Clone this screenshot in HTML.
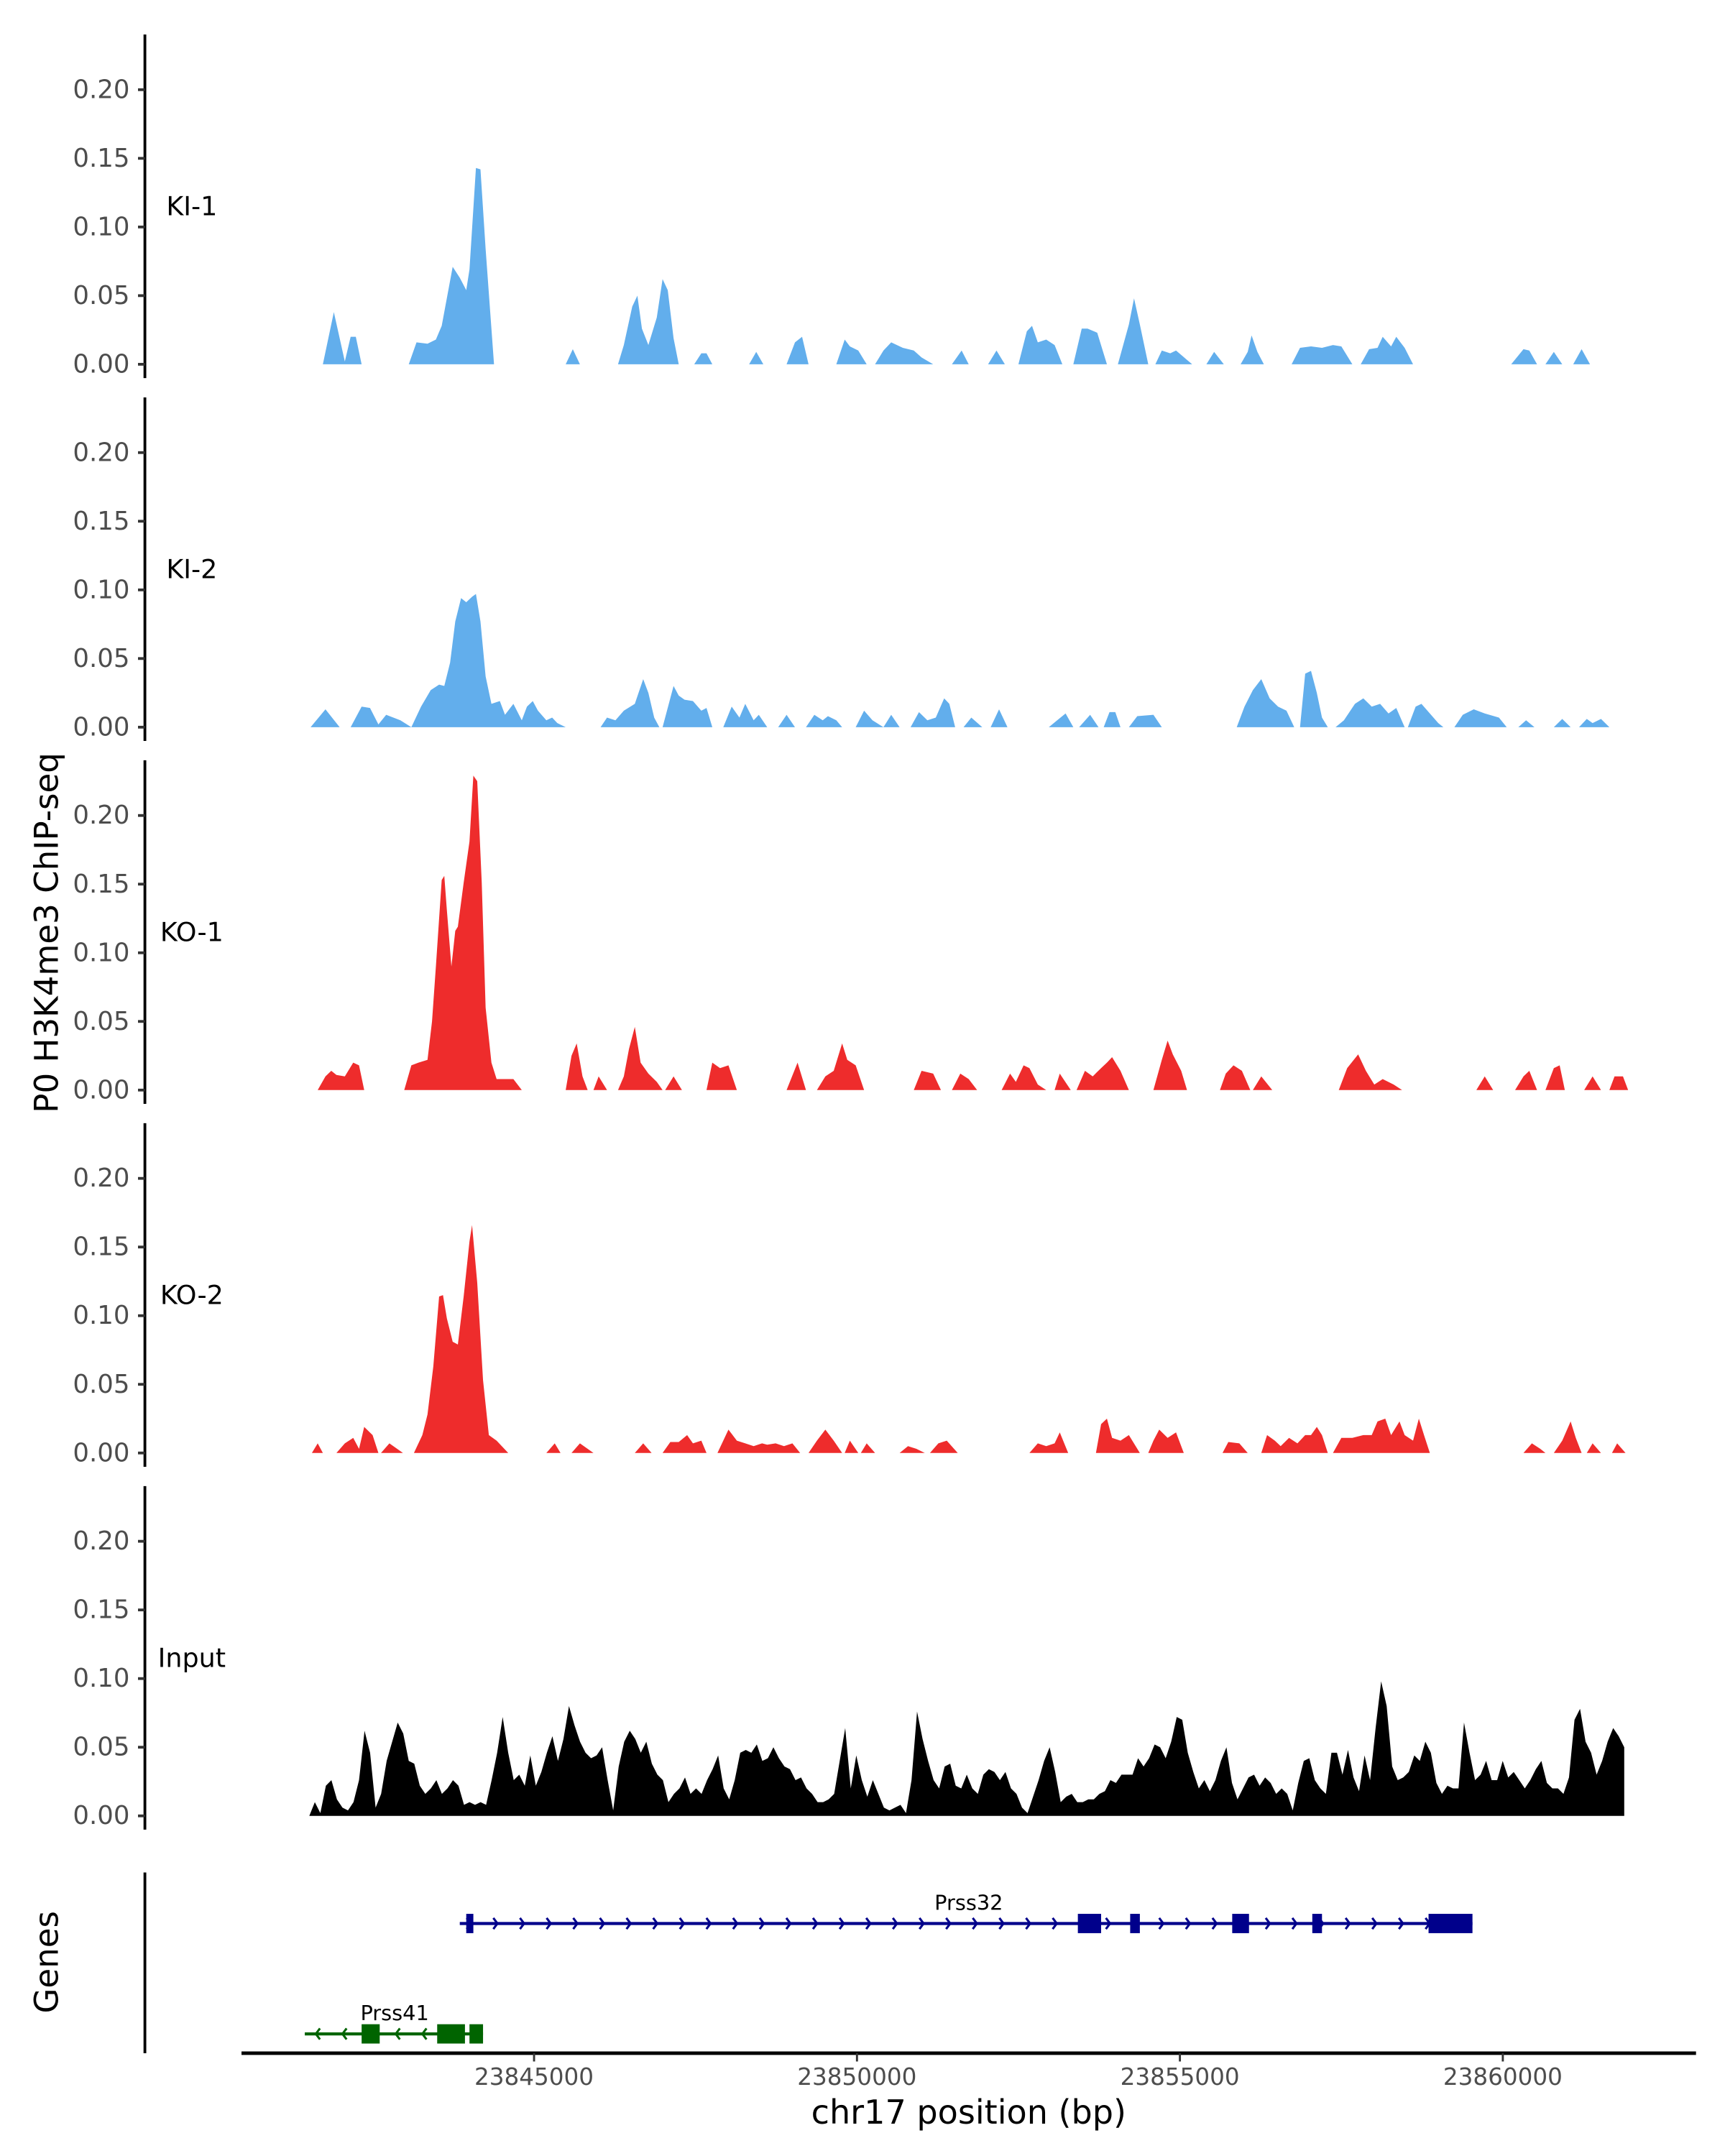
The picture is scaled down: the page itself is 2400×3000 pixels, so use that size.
<!DOCTYPE html>
<html><head><meta charset="utf-8"><style>
html,body{margin:0;padding:0;background:#fff}
svg{display:block}
text{font-family:"DejaVu Sans","Liberation Sans",sans-serif}
</style></head><body>
<svg id="chart" xmlns="http://www.w3.org/2000/svg" width="2400" height="3000" viewBox="0 0 1250 1562.5">
<text x="0" y="0" transform="translate(42,676) rotate(-90)" text-anchor="middle" font-size="23.5" fill="#000">P0 H3K4me3 ChIP-seq</text>
<text x="0" y="0" transform="translate(42,1422) rotate(-90)" text-anchor="middle" font-size="23.5" fill="#000">Genes</text>
<text x="702" y="1539" text-anchor="middle" font-size="24" fill="#000">chr17 position (bp)</text>
<g id="tracks"></g>
<g id="genes"></g>
<g id="xaxis"></g>
</svg>
<script>
// positions in kb offset from 23840000 bp, values = normalized coverage
const ki1Pos=[1.73,1.90,2.07,2.16,2.24,2.33,3.06,3.18,3.35,3.48,3.57,3.74,3.85,3.95,4.00,4.10,4.17,4.25,4.38,5.49,5.60,5.71,6.30,6.39,6.52,6.60,6.67,6.77,6.90,6.99,7.07,7.16,7.24,7.48,7.59,7.67,7.76,8.33,8.44,8.55,8.91,9.04,9.15,9.25,9.68,9.81,9.89,10.02,10.15,10.28,10.41,10.53,10.71,10.88,11.00,11.18,11.47,11.62,11.73,12.03,12.16,12.29,12.50,12.63,12.71,12.80,12.93,13.06,13.18,13.35,13.48,13.57,13.72,13.87,14.04,14.21,14.29,14.38,14.51,14.62,14.72,14.85,14.94,15.04,15.19,15.41,15.53,15.68,15.94,16.05,16.11,16.20,16.30,16.73,16.86,17.03,17.20,17.37,17.50,17.67,17.80,17.93,18.06,18.14,18.27,18.35,18.48,18.61,20.13,20.32,20.41,20.53,20.66,20.79,20.92,21.09,21.22,21.35];
const ki1Val=[0,0.038,0.002,0.020,0.020,0,0,0.016,0.015,0.018,0.028,0.071,0.063,0.054,0.069,0.143,0.142,0.084,0,0,0.011,0,0,0.014,0.042,0.050,0.026,0.014,0.034,0.062,0.054,0.019,0,0,0.008,0.008,0,0,0.009,0,0,0.016,0.020,0,0,0.018,0.013,0.010,0,0,0.010,0.016,0.012,0.010,0.005,0,0,0.010,0,0,0.010,0,0,0.024,0.028,0.016,0.018,0.014,0,0,0.026,0.026,0.023,0,0,0.029,0.048,0.029,0,0,0.010,0.008,0.010,0.006,0,0,0.009,0,0,0.009,0.021,0.009,0,0,0.012,0.013,0.012,0.014,0.013,0,0,0.011,0.012,0.020,0.013,0.020,0.012,0,0,0.011,0.010,0,0,0.009,0,0,0.011,0];
const ki2Pos=[1.54,1.77,1.99,2.16,2.33,2.46,2.59,2.71,2.93,3.10,3.14,3.25,3.40,3.53,3.61,3.70,3.78,3.87,3.95,4.04,4.10,4.17,4.25,4.34,4.47,4.55,4.68,4.81,4.89,4.98,5.06,5.19,5.28,5.36,5.49,6.03,6.13,6.26,6.39,6.56,6.69,6.77,6.86,6.94,6.99,7.16,7.24,7.33,7.46,7.59,7.67,7.76,7.93,8.06,8.18,8.27,8.40,8.48,8.61,8.78,8.91,9.04,9.21,9.34,9.47,9.55,9.68,9.77,9.98,10.11,10.24,10.41,10.53,10.66,10.83,10.96,11.09,11.22,11.35,11.43,11.52,11.65,11.77,11.94,12.07,12.20,12.33,12.97,13.10,13.23,13.35,13.44,13.61,13.74,13.82,13.91,14.00,14.08,14.21,14.34,14.59,14.72,15.88,16.00,16.13,16.26,16.39,16.52,16.65,16.77,16.86,16.94,17.03,17.12,17.20,17.29,17.41,17.54,17.71,17.84,17.97,18.10,18.23,18.35,18.48,18.53,18.65,18.74,18.87,19.00,19.08,19.25,19.38,19.55,19.72,19.94,20.06,20.24,20.36,20.49,20.79,20.92,21.05,21.18,21.30,21.39,21.52,21.65];
const ki2Val=[0,0.013,0,0,0.015,0.014,0.002,0.009,0.005,0,0.004,0.015,0.027,0.031,0.030,0.047,0.077,0.094,0.091,0.095,0.097,0.077,0.037,0.017,0.019,0.009,0.017,0.005,0.015,0.019,0.012,0.005,0.007,0.003,0,0,0.007,0.005,0.012,0.017,0.035,0.025,0.007,0,0,0.030,0.023,0.020,0.019,0.012,0.014,0,0,0.015,0.007,0.017,0.005,0.009,0,0,0.009,0,0,0.009,0.005,0.008,0.005,0,0,0.012,0.005,0,0.009,0,0,0.011,0.005,0.007,0.021,0.017,0,0,0.007,0,0,0.013,0,0,0.005,0.010,0,0,0.009,0,0,0.011,0.011,0,0,0.008,0.009,0,0,0.015,0.027,0.035,0.021,0.015,0.012,0,0,0.039,0.041,0.025,0.007,0,0,0.005,0.017,0.021,0.015,0.017,0.010,0.014,0,0,0.015,0.017,0.010,0.003,0,0,0.009,0.013,0.010,0.007,0,0,0.005,0,0,0.006,0,0,0.006,0.003,0.006,0];
const ko1Pos=[1.65,1.77,1.86,1.94,2.07,2.20,2.29,2.37,2.99,3.10,3.21,3.35,3.42,3.48,3.57,3.61,3.65,3.72,3.78,3.82,3.91,4.00,4.06,4.12,4.19,4.25,4.34,4.42,4.55,4.68,4.81,5.49,5.58,5.66,5.75,5.83,5.92,6.00,6.13,6.30,6.39,6.47,6.56,6.65,6.77,6.90,6.99,7.03,7.16,7.29,7.67,7.76,7.88,8.01,8.14,8.91,9.08,9.21,9.38,9.51,9.64,9.77,9.85,9.98,10.11,10.88,11.00,11.18,11.30,11.47,11.60,11.73,11.86,12.24,12.37,12.46,12.58,12.67,12.80,12.93,13.06,13.14,13.31,13.40,13.53,13.65,13.78,13.87,13.95,14.08,14.21,14.59,14.72,14.81,14.89,15.02,15.11,15.62,15.71,15.83,15.96,16.09,16.13,16.26,16.43,17.46,17.59,17.76,17.88,18.01,18.14,18.31,18.44,19.59,19.72,19.85,20.19,20.32,20.41,20.53,20.66,20.79,20.88,20.96,21.26,21.39,21.52,21.65,21.73,21.86,21.94];
const ko1Val=[0,0.010,0.014,0.011,0.010,0.020,0.018,0,0,0.018,0.020,0.022,0.050,0.090,0.153,0.156,0.131,0.090,0.116,0.119,0.151,0.181,0.229,0.225,0.151,0.060,0.020,0.008,0.008,0.008,0,0,0.025,0.034,0.010,0,0,0.010,0,0,0.010,0.030,0.046,0.020,0.012,0.006,0,0,0.010,0,0,0.020,0.016,0.018,0,0,0.020,0,0,0.010,0.014,0.034,0.022,0.018,0,0,0.014,0.012,0,0,0.012,0.008,0,0,0.012,0.006,0.018,0.016,0.004,0,0,0.012,0,0,0.014,0.010,0.016,0.020,0.024,0.014,0,0,0.022,0.036,0.026,0.014,0,0,0.012,0.018,0.014,0,0,0.010,0,0,0.016,0.026,0.014,0.004,0.008,0.004,0,0,0.010,0,0,0.010,0.014,0,0,0.016,0.018,0,0,0.010,0,0,0.010,0.010,0];
const ko2Pos=[1.56,1.65,1.73,1.94,2.07,2.20,2.29,2.37,2.50,2.59,2.63,2.76,2.88,2.97,3.14,3.27,3.35,3.44,3.53,3.59,3.65,3.74,3.82,3.91,4.00,4.04,4.12,4.21,4.30,4.42,4.60,5.19,5.32,5.41,5.58,5.71,5.83,5.92,6.56,6.69,6.82,6.99,7.11,7.24,7.37,7.46,7.59,7.67,7.84,8.01,8.14,8.27,8.40,8.53,8.61,8.74,8.87,9.00,9.12,9.25,9.38,9.51,9.64,9.77,9.81,9.89,10.02,10.06,10.15,10.28,10.66,10.79,10.92,11.05,11.13,11.26,11.39,11.56,12.67,12.80,12.93,13.06,13.14,13.27,13.70,13.78,13.87,13.95,14.08,14.21,14.38,14.51,14.59,14.68,14.81,14.94,15.06,15.66,15.75,15.92,16.05,16.26,16.35,16.47,16.56,16.69,16.82,16.94,17.03,17.12,17.20,17.29,17.37,17.50,17.67,17.84,17.97,18.06,18.18,18.27,18.40,18.48,18.61,18.70,18.78,18.87,20.32,20.45,20.58,20.66,20.79,20.92,21.05,21.13,21.22,21.30,21.39,21.52,21.69,21.77,21.90];
const ko2Val=[0,0.007,0,0,0.007,0.011,0.003,0.019,0.013,0,0,0.007,0.003,0,0,0.013,0.028,0.063,0.114,0.115,0.098,0.081,0.079,0.114,0.154,0.166,0.124,0.053,0.013,0.009,0,0,0.007,0,0,0.007,0.003,0,0,0.007,0,0,0.008,0.008,0.013,0.007,0.009,0,0,0.017,0.009,0.007,0.005,0.007,0.006,0.007,0.005,0.007,0,0,0.009,0.017,0.009,0,0,0.009,0,0,0.007,0,0,0.005,0.003,0,0,0.007,0.009,0,0,0.007,0.005,0.007,0.015,0,0,0.021,0.025,0.011,0.009,0.013,0,0,0.009,0.017,0.011,0.015,0,0,0.008,0.007,0,0,0.013,0.009,0.005,0.011,0.007,0.013,0.013,0.019,0.013,0,0,0.011,0.011,0.013,0.013,0.023,0.025,0.013,0.023,0.013,0.009,0.025,0.013,0,0,0.007,0.003,0,0,0.009,0.023,0.011,0,0,0.007,0,0,0.007,0];
const inputStartKb=1.52, inputEndKb=21.88;
const inputVal=[0,.010,.002,.022,.026,.012,.006,.004,.010,.026,.062,.046,.006,.016,.040,.054,.068,.060,.040,.038,.022,.016,.020,.026,.016,.020,.026,.022,.008,.010,.008,.010,.008,.026,.046,.072,.046,.026,.030,.022,.044,.022,.032,.046,.058,.040,.056,.080,.066,.054,.046,.042,.044,.050,.026,.004,.036,.054,.062,.056,.046,.054,.038,.030,.026,.010,.016,.020,.028,.016,.020,.016,.026,.034,.044,.020,.012,.026,.046,.048,.046,.052,.040,.042,.050,.042,.036,.034,.026,.028,.020,.016,.010,.010,.012,.016,.040,.064,.020,.044,.026,.014,.026,.016,.006,.004,.006,.008,.002,.026,.076,.056,.040,.026,.020,.036,.038,.022,.020,.030,.020,.016,.030,.034,.032,.026,.032,.020,.016,.006,.002,.014,.026,.040,.050,.032,.010,.014,.016,.010,.010,.012,.012,.016,.018,.026,.024,.030,.030,.030,.042,.036,.042,.052,.050,.042,.054,.072,.070,.046,.032,.020,.026,.018,.026,.040,.050,.024,.012,.020,.028,.030,.022,.028,.024,.016,.020,.016,.004,.024,.040,.042,.026,.020,.016,.046,.046,.030,.048,.028,.018,.044,.026,.064,.098,.080,.036,.026,.028,.032,.044,.040,.054,.046,.024,.016,.022,.020,.020,.068,.046,.026,.030,.040,.026,.026,.040,.028,.032,.026,.020,.026,.034,.040,.024,.020,.020,.016,.028,.070,.078,.054,.046,.030,.040,.054,.064,.058,.050];
const trackNames=["KI-1","KI-2","KO-1","KO-2","Input"];
const trackColors=["#62AEEC","#62AEEC","#EE2C2C","#EE2C2C","#000000"];
const yTicks=[0,0.05,0.10,0.15,0.20];
const yTickLabels=["0.00","0.05","0.10","0.15","0.20"];
const xTicks=[23845000,23850000,23855000,23860000];
const xTickLabels=["23845000","23850000","23855000","23860000"];
const prss32Span=[3.85,19.53];
const prss32Exons=[[3.95,4.06],[13.42,13.78],[14.23,14.38],[15.81,16.07],[17.05,17.20],[18.85,19.53]];
const prss41Span=[1.45,4.21];
const prss41Exons=[[2.33,2.61],[3.50,3.93],[4.00,4.21]];

const NS="http://www.w3.org/2000/svg";
const xScale=bp=>387+(bp-23845000)*0.0468;
const xKb=kb=>xScale(23840000+kb*1000);
const baseY=[264,527,790,1053,1316];
const yPer=995;
function mk(tag,attrs,parent){const e=document.createElementNS(NS,tag);for(const k in attrs)e.setAttribute(k,attrs[k]);parent.appendChild(e);return e;}
const tracks=document.getElementById('tracks');
const inputPos=inputVal.map((v,i)=>inputStartKb+(inputEndKb-inputStartKb)*i/(inputVal.length-1));
const series=[[ki1Pos,ki1Val],[ki2Pos,ki2Val],[ko1Pos,ko1Val],[ko2Pos,ko2Val],[inputPos,inputVal]];
series.forEach((s,t)=>{
  const b=baseY[t];
  const g=mk('g',{},tracks);
  
  
  const ax=mk('line',{x1:105,x2:105,y1:b-239,y2:b+10,stroke:'#000','stroke-width':2},g);
  
  
  yTicks.forEach((v,i)=>{
    const y=b-v*yPer;
    const tk=mk('line',{x1:100,x2:105,y1:y,y2:y,stroke:'#333','stroke-width':2},g);
    
    
    const tl=mk('text',{x:94,y:y+6,'text-anchor':'end','font-size':18.5,fill:'#4D4D4D'},g);
    tl.textContent=yTickLabels[i];
    
    
  });
  const lab=mk('text',{x:139,y:b-108,'text-anchor':'middle','font-size':19,fill:'#000'},g);
  lab.textContent=trackNames[t];
  
  
  const [P,V]=s;
  let d='M'+xKb(P[0]).toFixed(2)+','+b;
  P.forEach((p,i)=>{d+=' L'+xKb(p).toFixed(2)+','+(b-V[i]*yPer).toFixed(2);});
  d+=' L'+xKb(P[P.length-1]).toFixed(2)+','+b+' Z';
  const area=mk('path',{d:d,fill:trackColors[t],stroke:'none'},g);
  
  
});
// genes
const gg=document.getElementById('genes');
const gax=mk('line',{x1:105,x2:105,y1:1357,y2:1488,stroke:'#000','stroke-width':2},gg);


function drawGene(name,span,exons,y,color,dir,labelX){
  const g=mk('g',{},gg);
  
  
  const x1=xKb(span[0]),x2=xKb(span[1]);
  mk('line',{x1:x1,x2:x2,y1:y,y2:y,stroke:color,'stroke-width':2.2},g);
  for(let x=x1+8;x<x2-6;x+=19.3){
    const s=dir>0?-1:1;
    mk('polyline',{points:`${x+s*3},${y-4} ${x},${y} ${x+s*3},${y+4}`,fill:'none',stroke:color,'stroke-width':1.6},g);
  }
  exons.forEach(e=>{
    const ex=mk('rect',{x:xKb(e[0]),y:y-7,width:xKb(e[1])-xKb(e[0]),height:14,fill:color},g);
    
    
  });
  const t=mk('text',{x:labelX,y:y-10,'text-anchor':'middle','font-size':15,fill:'#000'},g);
  t.textContent=name;
  
  
}
drawGene('Prss32',prss32Span,prss32Exons,1394,'#00008B',1,702);
drawGene('Prss41',prss41Span,prss41Exons,1474,'#006400',-1,286);
// x axis
const xg=document.getElementById('xaxis');
const xl=mk('line',{x1:175,x2:1229,y1:1488,y2:1488,stroke:'#000','stroke-width':2.5},xg);


xTicks.forEach((v,i)=>{
  const x=xScale(v);
  const tk=mk('line',{x1:x,x2:x,y1:1488,y2:1494,stroke:'#333','stroke-width':1.5},xg);
  
  
  const tl=mk('text',{x:x,y:1511,'text-anchor':'middle','font-size':17,fill:'#4D4D4D'},xg);
  tl.textContent=xTickLabels[i];
  
  
});
</script>
</body></html>
